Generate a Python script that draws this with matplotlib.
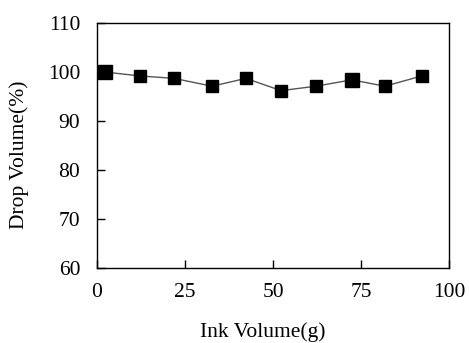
import matplotlib
matplotlib.use("Agg")
import matplotlib.pyplot as plt

ink_volume = [2.2, 12.1, 21.9, 32.7, 42.3, 52.3, 62.2, 72.4, 81.8, 92.3]
drop_volume = [100.0, 99.2, 98.7, 97.1, 98.7, 96.2, 97.1, 98.4, 97.1, 99.2]
marker_sizes = [10, 8.6, 8.6, 8.6, 8.6, 8.6, 8.6, 10, 8.6, 8.6]
x_ticks = [0, 25, 50, 75, 100]
y_ticks = [60, 70, 80, 90, 100, 110]

plt.rcParams['font.family'] = ['Liberation Serif', 'DejaVu Serif']

fig = plt.figure(figsize=(4.69, 3.43), dpi=100)
ax = fig.add_axes([97/469, 75/343, 352/469, 245/343])

ax.plot(ink_volume, drop_volume, color='#555555', lw=1.0, zorder=2)
for x, y, s in zip(ink_volume, drop_volume, marker_sizes):
    ax.plot([x], [y], marker='s', ms=s, color='black', ls='none', zorder=3)

ax.set_xlim(0, 100)
ax.set_ylim(60, 110)
ax.set_xticks(x_ticks)
ax.set_yticks(y_ticks)
ax.set_xticklabels([str(v) for v in x_ticks])
ax.set_yticklabels([str(v) for v in y_ticks])
ax.tick_params(direction='in', length=6, width=1, labelsize=15.5, colors='black')
ax.tick_params(axis='x', pad=11)
ax.tick_params(axis='y', pad=12)
for sp in ax.spines.values():
    sp.set_linewidth(1.0)
    sp.set_color('black')

ax.set_xlabel('Ink Volume(g)', fontsize=15.5, labelpad=0)
ax.xaxis.set_label_coords(0.472, -0.22)
ax.set_ylabel('Drop Volume(%)', fontsize=15.5)
ax.yaxis.set_label_coords(-0.192, 0.461)

fig.savefig('out.png', dpi=100)
